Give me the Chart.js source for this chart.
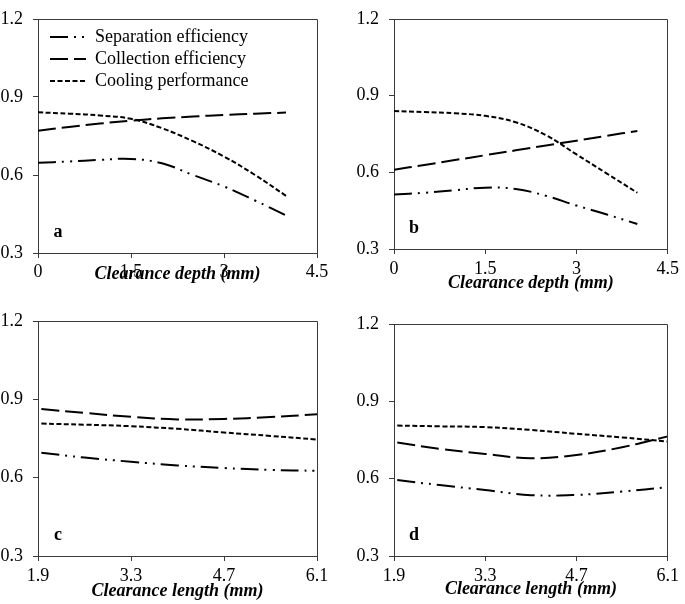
<!DOCTYPE html>
<html>
<head>
<meta charset="utf-8">
<script src="https://cdn.jsdelivr.net/npm/chart.js@4.4.1/dist/chart.umd.min.js"></script>
<style>
  body { margin: 0; background: #fff; width: 685px; height: 604px; position: relative; overflow: hidden; }
  canvas { position: absolute; }
</style>
</head>
<body>
<canvas id="pa" width="340" height="300" style="left:0;top:0"></canvas>
<canvas id="pb" width="345" height="300" style="left:340px;top:0"></canvas>
<canvas id="pc" width="340" height="304" style="left:0;top:300px"></canvas>
<canvas id="pd" width="345" height="304" style="left:340px;top:300px"></canvas>
<script>
// series / axis data
const seriesNames = ["Separation efficiency", "Collection efficiency", "Cooling performance"];
const depthX = [0, 0.5, 1, 1.5, 2, 2.5, 3, 3.5, 4];
const lengthX = [1.95, 2.6, 3.3, 4.0, 4.7, 5.4, 6.1];
const depthTicks = [0, 1.5, 3, 4.5];
const lengthTicks = [1.9, 3.3, 4.7, 6.1];
const yTicks = [0.3, 0.6, 0.9, 1.2];

// a: clearance depth
const sepA  = [0.647, 0.652, 0.658, 0.662, 0.645, 0.600, 0.556, 0.502, 0.445];
const colA  = [0.770, 0.785, 0.798, 0.809, 0.818, 0.825, 0.831, 0.836, 0.840];
const coolA = [0.841, 0.836, 0.829, 0.816, 0.780, 0.730, 0.671, 0.600, 0.520];
// b: clearance depth
const sepB  = [0.513, 0.520, 0.530, 0.540, 0.535, 0.508, 0.470, 0.435, 0.398];
const colB  = [0.610, 0.629, 0.648, 0.667, 0.686, 0.705, 0.724, 0.743, 0.762];
const coolB = [0.840, 0.836, 0.831, 0.821, 0.796, 0.745, 0.670, 0.595, 0.520];
// c: clearance length
const sepC  = [0.695, 0.677, 0.661, 0.647, 0.637, 0.630, 0.626];
const colC  = [0.863, 0.848, 0.833, 0.823, 0.825, 0.832, 0.843];
const coolC = [0.807, 0.803, 0.797, 0.787, 0.773, 0.760, 0.746];
// d: clearance length
const sepD  = [0.595, 0.575, 0.556, 0.536, 0.537, 0.550, 0.567];
const colD  = [0.740, 0.716, 0.696, 0.679, 0.692, 0.722, 0.764];
const coolD = [0.806, 0.803, 0.800, 0.789, 0.774, 0.760, 0.744];

const dashes = [[18, 6, 2, 6, 2, 6], [18, 6], [5, 2.5]];
const axisColor = "#3a3a3a";
const serif = "'Liberation Serif', 'Times New Roman', serif";
Chart.defaults.font.family = serif;

// box round the plot + panel letter
const framePlugin = {
  id: "frame",
  afterDatasetsDraw(chart, args, opts) {
    const { ctx, chartArea: { left, top, right, bottom } } = chart;
    const al = (p) => Math.round(p - 0.5) + 0.5;
    ctx.save();
    ctx.strokeStyle = axisColor;
    ctx.lineWidth = 1;
    ctx.beginPath();
    ctx.moveTo(al(left), al(top));
    ctx.lineTo(al(right), al(top));
    ctx.lineTo(al(right), al(bottom));
    ctx.stroke();
    ctx.fillStyle = "#000";
    ctx.font = "bold 18px " + serif;
    ctx.textAlign = "center";
    ctx.textBaseline = "middle";
    ctx.fillText(opts.letter, left + 20, bottom - 21);
    ctx.restore();
  }
};

// move the in-plot legend to its spot
const legendSpot = {
  id: "legendSpot",
  afterLayout(chart) {
    if (!chart.legend || !chart.options.plugins.legend.display) return;
    chart.legend.left = chart.chartArea.left + 8;
    chart.legend.top = chart.chartArea.top + 5;
  }
};

function panel(id, letter, xs, xTicks, xTitle, vals, geo, showLegend) {
  const tickFont = { size: 18, lineHeight: 1 };
  new Chart(document.getElementById(id), {
    type: "line",
    data: {
      datasets: seriesNames.map((name, i) => ({
        label: name,
        data: xs.map((x, j) => ({ x: x, y: vals[i][j] })),
        borderColor: "#000",
        backgroundColor: "#000",
        borderWidth: 2,
        borderDash: dashes[i],
        pointRadius: 0,
        tension: 0.4,
        fill: false
      }))
    },
    options: {
      responsive: false,
      animation: false,
      events: [],
      layout: { padding: { top: geo.top, right: geo.right, left: 0, bottom: 0 } },
      scales: {
        x: {
          type: "linear",
          min: xTicks[0],
          max: xTicks[xTicks.length - 1],
          afterBuildTicks: (s) => { s.ticks = xTicks.map(v => ({ value: v })); },
          afterFit: (s) => { s.height = geo.xh; },
          grid: { drawOnChartArea: false, tickLength: 5, color: axisColor },
          border: { color: axisColor },
          ticks: { padding: geo.xpad, font: tickFont, color: "#000", maxRotation: 0, autoSkip: false,
                   callback: (v) => String(v) },
          title: { display: true, text: xTitle, color: "#000",
                   font: { size: 18, weight: "bold", style: "italic", lineHeight: 1 },
                   padding: { top: 0, bottom: geo.tpad } }
        },
        y: {
          min: yTicks[0],
          max: yTicks[yTicks.length - 1],
          afterBuildTicks: (s) => { s.ticks = yTicks.map(v => ({ value: v })); },
          afterFit: (s) => { s.width = geo.yw; },
          grid: { drawOnChartArea: false, tickLength: 5, color: axisColor },
          border: { color: axisColor },
          ticks: { padding: 10, font: tickFont, color: "#000", callback: (v) => v.toFixed(1) }
        }
      },
      plugins: {
        frame: { letter: letter },
        tooltip: { enabled: false },
        legend: {
          display: showLegend,
          position: "chartArea",
          align: "start",
          labels: {
            usePointStyle: true,
            pointStyle: "line",
            pointStyleWidth: 36,
            padding: 4,
            color: "#000",
            font: { size: 18, lineHeight: 1 },
            generateLabels: (chart) =>
              Chart.defaults.plugins.legend.labels.generateLabels(chart).map((it, i) => ({
                ...it, lineDash: dashes[i], lineWidth: 2, strokeStyle: "#000", lineCap: "butt"
              }))
          }
        }
      }
    },
    plugins: [framePlugin, legendSpot]
  });
}

panel("pa", "a", depthX, depthTicks, "Clearance depth (mm)", [sepA, colA, coolA],
      { top: 10, right: 23, yw: 38, xh: 47, xpad: 5, tpad: 17 }, true);
panel("pb", "b", depthX, depthTicks, "Clearance depth (mm)", [sepB, colB, coolB],
      { top: 9, right: 12, yw: 54, xh: 51, xpad: 6, tpad: 8 }, false);
panel("pc", "c", lengthX, lengthTicks, "Clearance length (mm)", [sepC, colC, coolC],
      { top: 21, right: 23, yw: 38, xh: 48, xpad: 6, tpad: 4 }, false);
panel("pd", "d", lengthX, lengthTicks, "Clearance length (mm)", [sepD, colD, coolD],
      { top: 24, right: 12, yw: 54, xh: 48, xpad: 6, tpad: 6 }, false);
</script>
</body>
</html>
